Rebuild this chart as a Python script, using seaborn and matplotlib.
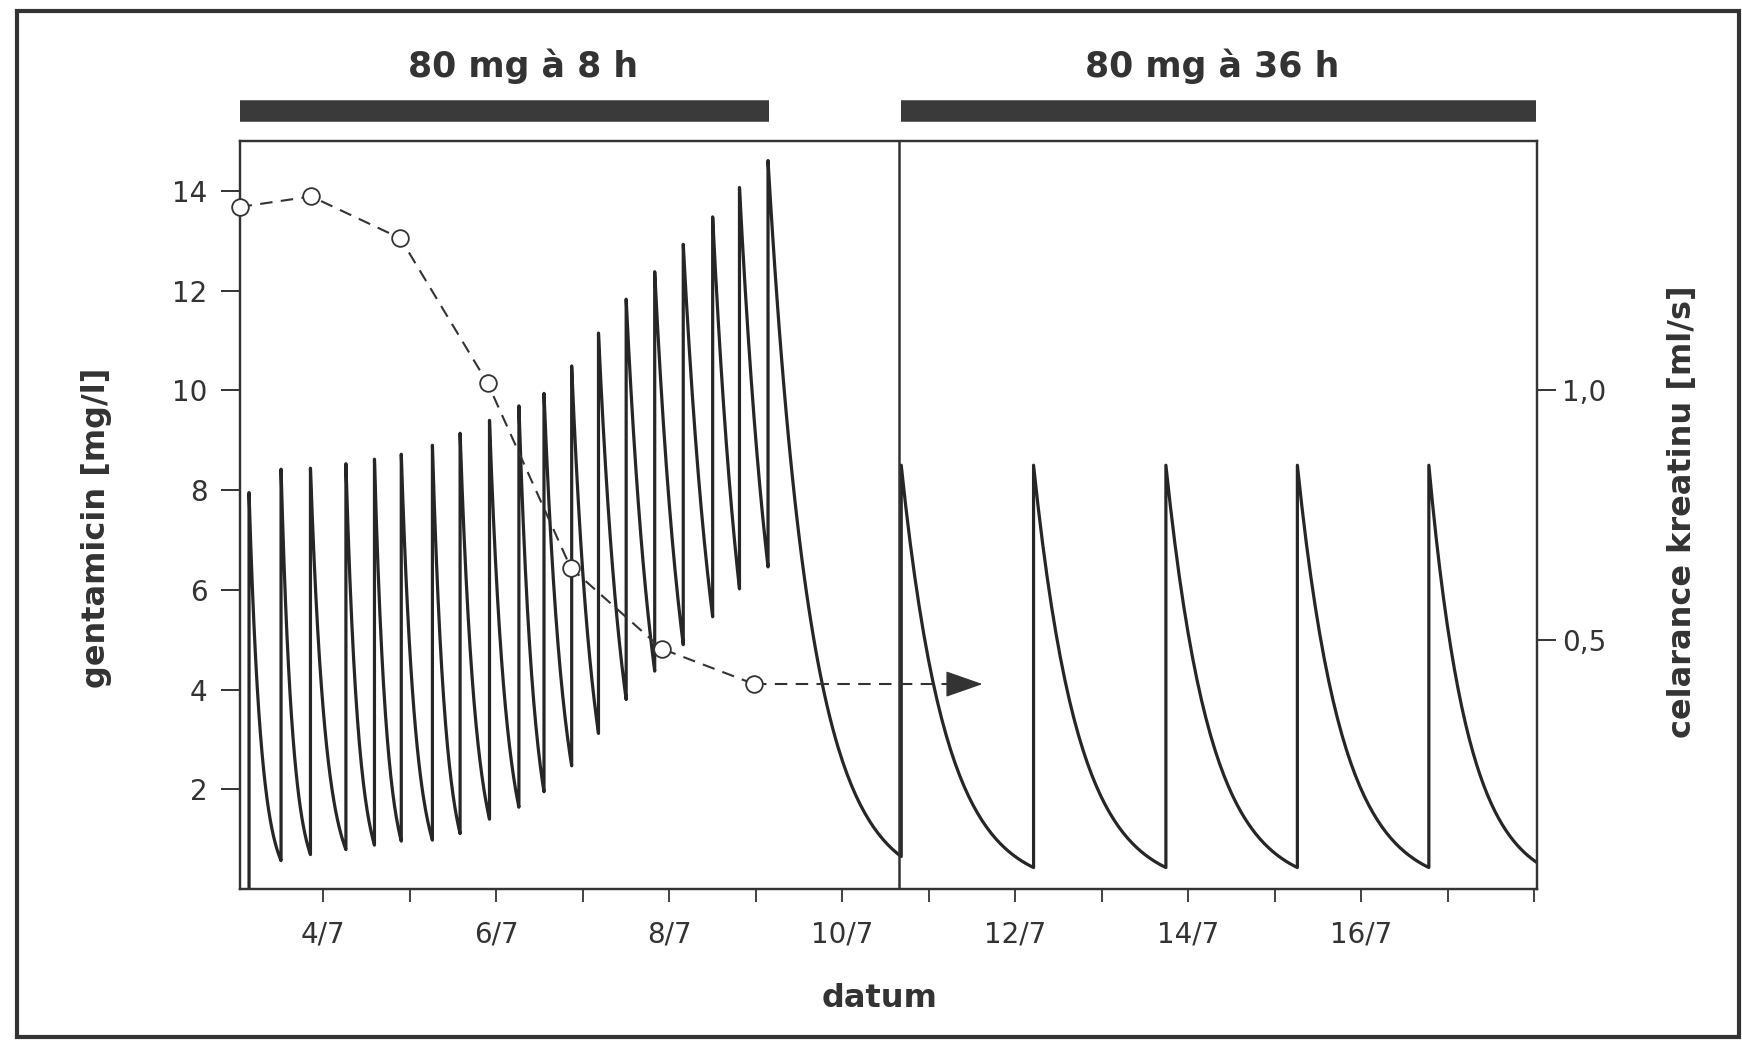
import numpy as np
import pandas as pd
import matplotlib
matplotlib.use("Agg")
import matplotlib.pyplot as plt
import seaborn as sns
from matplotlib.patches import Rectangle

# dose times (day of July) and gentamicin level right after each dose [mg/l]
dose_days = [3.14, 3.51, 3.85, 4.26, 4.59, 4.90, 5.26, 5.58, 5.92, 6.26,
             6.55, 6.87, 7.18, 7.50, 7.83, 8.16, 8.50, 8.81, 9.14,
             10.68, 12.21, 13.74, 15.26, 16.78]
peak_conc = [7.95, 8.42, 8.44, 8.53, 8.62, 8.72, 8.90, 9.14, 9.40, 9.69,
             9.94, 10.49, 11.15, 11.83, 12.38, 12.93, 13.48, 14.07, 14.61,
             8.50, 8.50, 8.50, 8.50, 8.50]
# level just before the next dose (last one = at the end of the record)
trough_conc = [0.57, 0.69, 0.79, 0.88, 0.96, 0.98, 1.11, 1.40, 1.64, 1.95,
               2.47, 3.12, 3.80, 4.37, 4.90, 5.46, 6.02, 6.46,
               0.65, 0.43, 0.43, 0.43, 0.43, 0.53]
end_day = 18.03

# creatinine clearance [ml/s]
clear_days = [3.03, 3.86, 4.89, 5.90, 6.86, 7.91, 8.98]
clearance = [1.368, 1.389, 1.305, 1.014, 0.644, 0.482, 0.411]
arrow_end_day = 11.62

# dosing regimens
regimen_labels = ["80 mg à 8 h", "80 mg à 36 h"]
regimen_start = [3.04, 10.68]
regimen_end = [9.15, 18.02]
regimen_label_days = [6.31, 14.28]
regimen_switch = 10.65

date_ticks = [4, 5, 6, 7, 8, 9, 10, 11, 12, 13, 14, 15, 16, 17, 18]
date_labels = ["4/7", "", "6/7", "", "8/7", "", "10/7", "", "12/7", "", "14/7", "", "16/7", "", ""]
conc_ticks = [2, 4, 6, 8, 10, 12, 14]
clear_ticks = [0.5, 1.0]
clear_labels = ["0,5", "1,0"]

sns.set_theme(style="white")
plt.rcParams["font.family"] = ["DejaVu Sans"]
ink = "#333333"

# build the sawtooth: first-order decay from each peak to the following trough
xs, ys = [dose_days[0]], [0.0]
for i, t0 in enumerate(dose_days):
    t1 = dose_days[i + 1] if i + 1 < len(dose_days) else end_day
    tt = np.linspace(t0, t1, 60)
    cc = peak_conc[i] * (trough_conc[i] / peak_conc[i]) ** ((tt - t0) / (t1 - t0))
    xs.extend(tt)
    ys.extend(cc)
curve = pd.DataFrame({"day": xs, "conc": ys})

fig = plt.figure(figsize=(17.42, 10.40), dpi=100)
ax = fig.add_axes([0.1375, 0.1452, 0.7448, 0.7191])

sns.lineplot(data=curve, x="day", y="conc", ax=ax, estimator=None, sort=False,
             color="#262626", lw=2.3)
ax.axvline(regimen_switch, color=ink, lw=1.8)

ax.set_xlim(3.03, 18.03)
ax.set_ylim(0, 15)
ax.set_xticks(date_ticks)
ax.set_xticklabels(date_labels)
ax.set_yticks(conc_ticks)
ax.tick_params(axis="x", direction="out", length=9, width=1.3, pad=14,
               labelsize=20, colors=ink, bottom=True)
ax.tick_params(axis="y", direction="out", length=14, width=1.4, pad=9,
               labelsize=20, colors=ink, left=True)
for sp in ax.spines.values():
    sp.set_color(ink)
    sp.set_linewidth(1.6)

ax.set_xlabel("datum", fontsize=23, fontweight="bold", color=ink, va="center")
ax.xaxis.set_label_coords(0.493, -0.146)
ax.set_ylabel("gentamicin [mg/l]", fontsize=23, fontweight="bold", color=ink, va="center")
ax.yaxis.set_label_coords(-0.110, 0.483)

# regimen bars above the plot
trans = ax.get_xaxis_transform()
for lab, s, e, lx in zip(regimen_labels, regimen_start, regimen_end, regimen_label_days):
    ax.plot([s, e], [1.040, 1.040], transform=trans, lw=15.5, color="#3a3a3a",
            solid_capstyle="butt", clip_on=False)
    ax.text(lx, 1.086, lab, transform=trans, ha="center", va="baseline",
            fontsize=25, fontweight="bold", color=ink)

# clearance on the right axis
ax2 = ax.twinx()
sns.lineplot(x=clear_days, y=clearance, ax=ax2, color=ink, lw=1.5,
             linestyle=(0, (6, 4)), marker="o", markersize=12,
             markerfacecolor="white", markeredgecolor=ink, markeredgewidth=1.3,
             clip_on=False, zorder=5)
# dashed extension with a solid arrow head
ax2.plot([clear_days[-1], arrow_end_day], [clearance[-1], clearance[-1]],
         color=ink, lw=1.5, linestyle=(0, (6, 4)), zorder=4)
ax2.annotate("", xy=(arrow_end_day, clearance[-1]),
             xytext=(arrow_end_day - 0.05, clearance[-1]),
             arrowprops=dict(arrowstyle="-|>,head_length=1.2,head_width=0.42",
                             mutation_scale=20, lw=1.0, color=ink,
                             shrinkA=0, shrinkB=0))
ax2.set_ylim(0, 1.5)
ax2.set_yticks(clear_ticks)
ax2.set_yticklabels(clear_labels)
ax2.tick_params(axis="y", direction="out", length=14, width=1.4, pad=4,
                labelsize=20, colors=ink, right=True)
for sp in ax2.spines.values():
    sp.set_color(ink)
    sp.set_linewidth(1.6)
ax2.set_ylabel("celarance kreatinu [ml/s]", fontsize=23, fontweight="bold",
               color=ink, va="center", rotation=90)
ax2.yaxis.set_label_coords(1.112, 0.504)

# scanned-page frame
fig.patches.append(Rectangle((0.0095, 0.003), 0.9885, 0.986, transform=fig.transFigure,
                             fill=False, lw=3, ec=ink))

fig.savefig("out.png", dpi=100)
